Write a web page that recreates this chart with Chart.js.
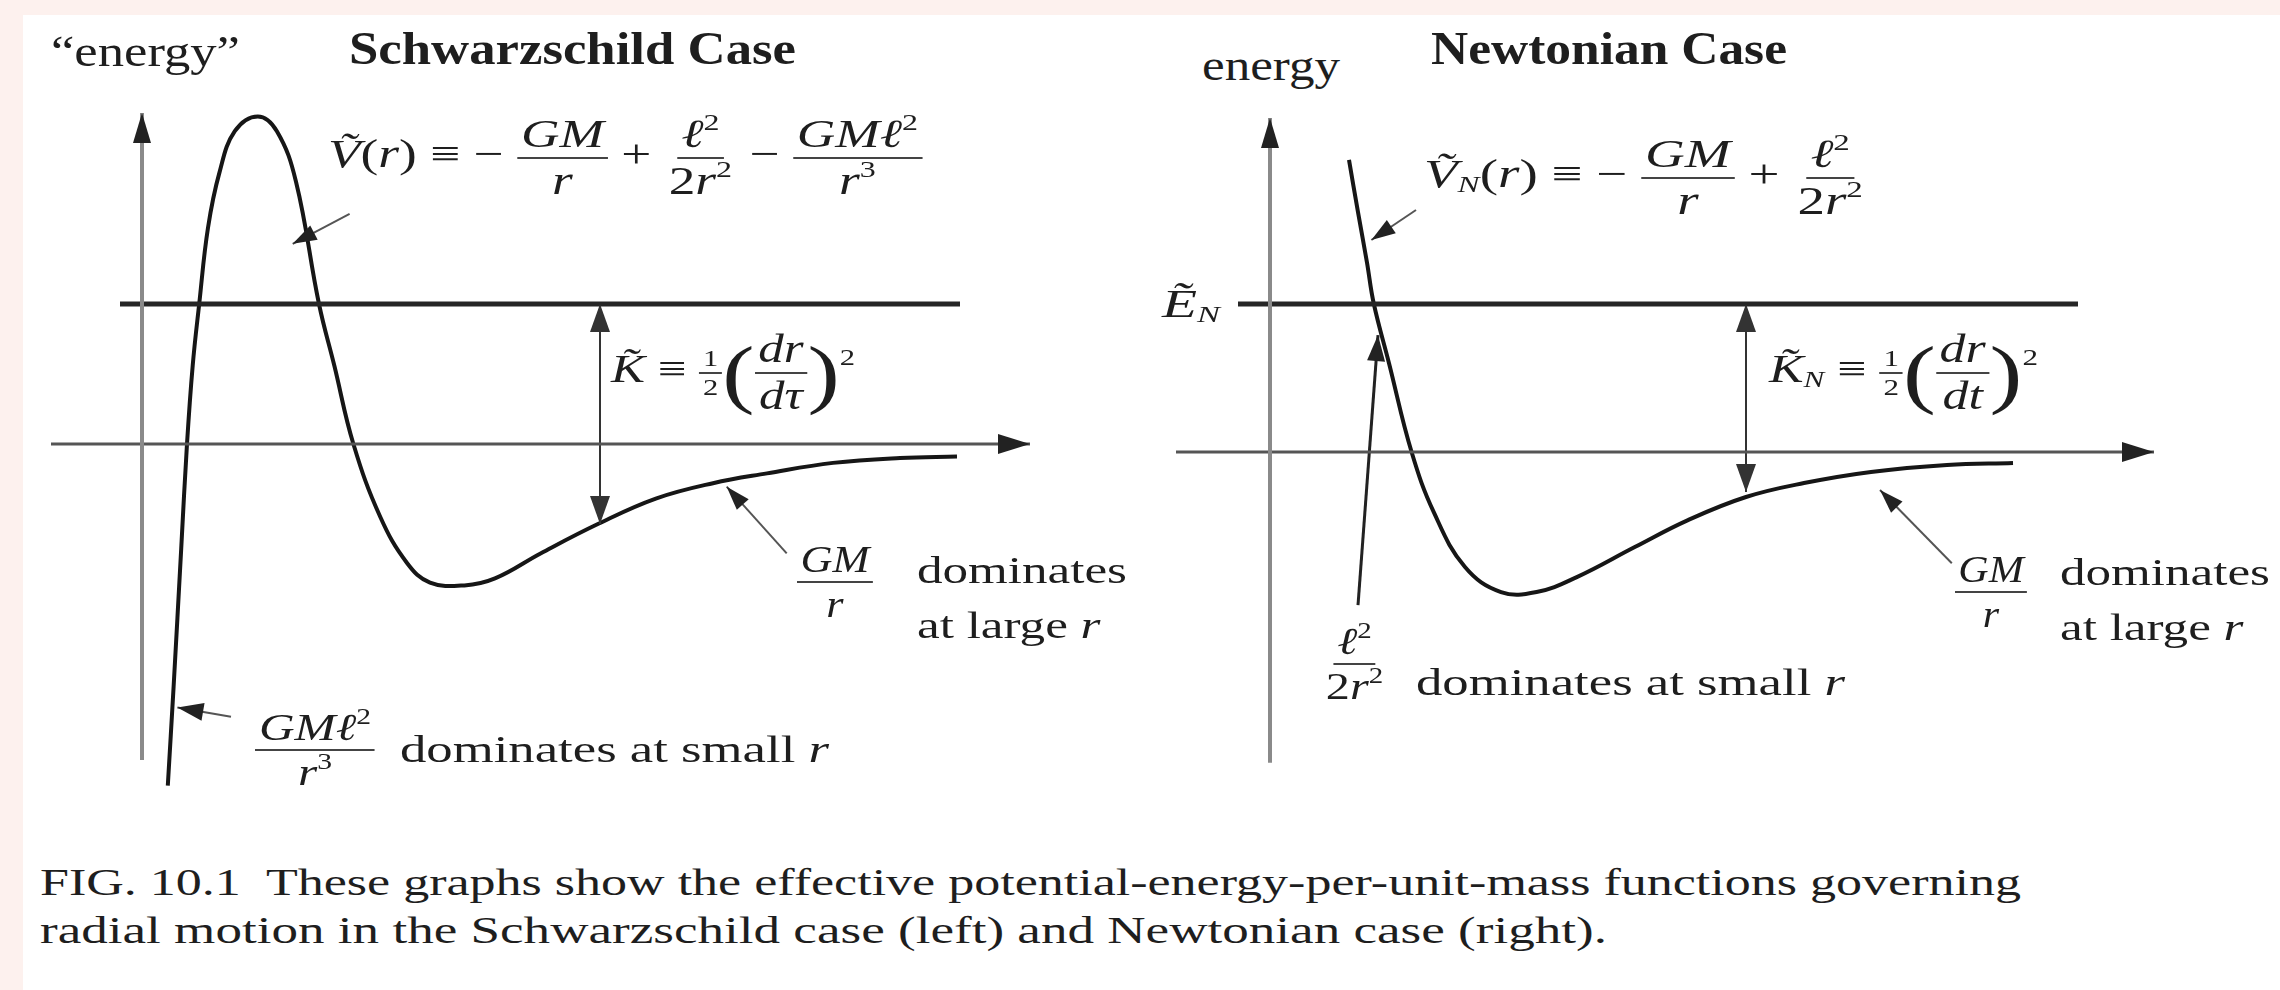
<!DOCTYPE html>
<html><head><meta charset="utf-8">
<script src="https://cdn.jsdelivr.net/npm/chart.js@4.4.1/dist/chart.umd.min.js"></script>
<style>
html,body{margin:0;padding:0;}
body{width:2280px;height:990px;background:#fdf1ee;position:relative;overflow:hidden;font-family:"Liberation Serif","Times New Roman","DejaVu Serif",serif;color:#1e1e1e;}
#sheet{position:absolute;left:23px;top:15px;width:2257px;height:975px;background:#fff;}
canvas{position:absolute;}
.t{position:absolute;white-space:nowrap;line-height:1;transform-origin:0 0;}
.frac{display:inline-flex;flex-direction:column;align-items:center;vertical-align:middle;}
.frac>span{display:block;padding:0 3px;line-height:1.12;}
.frac>span:first-child{border-bottom:2px solid #444;}
.small{font-size:0.6em;}
.big{font-size:1.9em;vertical-align:middle;font-weight:lighter;}
sup{font-size:0.6em;vertical-align:0.7em;line-height:0;}
sub{font-size:0.6em;vertical-align:-0.2em;line-height:0;}
i{font-style:italic;}
</style></head>
<body>
<div id="sheet"></div>
<canvas id="cl" width="1050" height="700" style="left:30px;top:100px"></canvas>
<canvas id="cr" width="1120" height="700" style="left:1150px;top:100px"></canvas>

<!-- left panel texts -->
<div class="t" data-w="189" style="left:51px;top:30px;font-size:44px">“energy”</div>
<div class="t" data-w="447" style="left:349px;top:26px;font-size:46px;font-weight:bold">Schwarzschild Case</div>
<div class="t" data-w="594" style="left:328px;top:112px;font-size:40px"><i>Ṽ</i>(<i>r</i>) ≡ − <span class="frac"><span><i>GM</i></span><span><i>r</i></span></span> + <span class="frac"><span><i>ℓ</i><sup>2</sup></span><span>2<i>r</i><sup>2</sup></span></span> − <span class="frac"><span><i>GMℓ</i><sup>2</sup></span><span><i>r</i><sup>3</sup></span></span></div>
<div class="t" data-w="244" style="left:611px;top:327px;font-size:40px"><i>K̃</i> ≡ <span class="frac small"><span>1</span><span>2</span></span><span class="big">(</span><span class="frac"><span><i>dr</i></span><span><i>dτ</i></span></span><span class="big">)</span><sup>2</sup></div>
<div class="t" data-w="76" style="left:797px;top:538px;font-size:38px"><span class="frac"><span><i>GM</i></span><span><i>r</i></span></span></div>
<div class="t" data-w="210" style="left:917px;top:543px;font-size:38px;line-height:1.45">dominates<br>at large <i>r</i></div>
<div class="t" data-w="120" style="left:255px;top:706px;font-size:38px"><span class="frac"><span><i>GMℓ</i><sup>2</sup></span><span><i>r</i><sup>3</sup></span></span></div>
<div class="t" data-w="429" style="left:400px;top:730px;font-size:38px">dominates at small <i>r</i></div>

<!-- right panel texts -->
<div class="t" data-w="138" style="left:1202px;top:44px;font-size:44px">energy</div>
<div class="t" data-w="356" style="left:1431px;top:26px;font-size:46px;font-weight:bold">Newtonian Case</div>
<div class="t" data-w="443" style="left:1424px;top:132px;font-size:40px"><i>Ṽ</i><sub><i>N</i></sub>(<i>r</i>) ≡ − <span class="frac"><span><i>GM</i></span><span><i>r</i></span></span> + <span class="frac"><span><i>ℓ</i><sup>2</sup></span><span>2<i>r</i><sup>2</sup></span></span></div>
<div class="t" data-w="58" style="left:1162px;top:284px;font-size:40px"><i>Ẽ</i><sub><i>N</i></sub></div>
<div class="t" data-w="269" style="left:1769px;top:327px;font-size:40px"><i>K̃</i><sub><i>N</i></sub> ≡ <span class="frac small"><span>1</span><span>2</span></span><span class="big">(</span><span class="frac"><span><i>dr</i></span><span><i>dt</i></span></span><span class="big">)</span><sup>2</sup></div>
<div class="t" data-w="72" style="left:1955px;top:548px;font-size:38px"><span class="frac"><span><i>GM</i></span><span><i>r</i></span></span></div>
<div class="t" data-w="210" style="left:2060px;top:545px;font-size:38px;line-height:1.45">dominates<br>at large <i>r</i></div>
<div class="t" data-w="65" style="left:1322px;top:620px;font-size:38px"><span class="frac"><span><i>ℓ</i><sup>2</sup></span><span>2<i>r</i><sup>2</sup></span></span></div>
<div class="t" data-w="429" style="left:1416px;top:663px;font-size:38px">dominates at small <i>r</i></div>

<!-- caption -->
<div class="t" data-w="1981" style="left:40px;top:864px;font-size:37px">FIG. 10.1&nbsp; These graphs show the effective potential-energy-per-unit-mass functions governing</div>
<div class="t" data-w="1567" style="left:40px;top:912px;font-size:37px">radial motion in the Schwarzschild case (left) and Newtonian case (right).</div>

<script>
// ---------- Schwarzschild (left) panel ----------
const schwR = [0.258,0.316,0.392,0.45,0.507,0.572,0.66,0.775,0.928,1.158,1.349,1.54,1.77,1.923,2.114,2.382,2.65,2.88,3.224,3.53,3.99,4.564,5.138,5.71,6.25,6.91,7.58,8.15];
const schwV = [-2.44,-1.735,-0.75,0.0,0.56,1.0,1.545,1.94,2.234,2.34,2.234,1.873,1.0,0.56,0.0,-0.52,-0.85,-0.99,-1.01,-0.96,-0.78,-0.57,-0.39,-0.28,-0.21,-0.135,-0.10,-0.09];
const schwRAxis = [-0.91, 8.88];
const schwVAxis = [-2.257, 2.364];
const schwEnergy = 1.0;
const schwEnergyR = [-0.22, 8.18];
const schwKArrowR = 4.58;
const schwKArrowV = [1.0, -0.571];
const schwNoteFormulaR = [2.076, 1.507];  const schwNoteFormulaV = [1.643, 1.43];
const schwNoteLargeR = [6.447, 5.847];    const schwNoteLargeV = [-0.781, -0.305];
const schwNoteSmallR = [0.89, 0.354];     const schwNoteSmallV = [-1.948, -1.882];

// ---------- Newtonian (right) panel ----------
const newtR = [0.79,0.88,0.97,1.037,1.19,1.416,1.64,1.95,2.31,2.666,3.068,3.648,4.18,4.76,5.34,6.01,6.77,7.43];
const newtV = [1.973,1.62,1.28,1.005,0.6,0.0,-0.41,-0.777,-0.946,-0.946,-0.845,-0.642,-0.46,-0.304,-0.21,-0.135,-0.088,-0.074];
const newtRAxis = [-0.94, 8.84];
const newtVAxis = [-2.10, 2.257];
const newtEnergy = 1.0;
const newtEnergyR = [-0.32, 8.08];
const newtKArrowR = 4.76;
const newtKArrowV = [1.0, -0.27];
const newtNoteFormulaR = [1.46, 1.014];   const newtNoteFormulaV = [1.635, 1.432];
const newtNoteLargeR = [6.818, 6.10];     const newtNoteLargeV = [-0.752, -0.257];
const newtNoteSmallR = [0.88, 1.08];      const newtNoteSmallV = [-1.034, 0.79];

const pts = (rs, vs) => rs.map((r, i) => ({x: r, y: vs[i]}));
const hseg = (rs, v) => rs.map(r => ({x: r, y: v}));
const vseg = (r, vs) => vs.map(v => ({x: r, y: v}));

const arrowPlugin = {
  id: 'arrows',
  afterDatasetsDraw(chart) {
    const ctx = chart.ctx;
    chart.data.datasets.forEach((ds, i) => {
      if (!ds.arrows) return;
      const p = chart.getDatasetMeta(i).data;
      const n = p.length;
      const [len, hw] = ds.arrows.size;
      const draw = (tip, from) => {
        const a = Math.atan2(tip.y - from.y, tip.x - from.x);
        ctx.save();
        ctx.translate(tip.x, tip.y);
        ctx.rotate(a);
        ctx.beginPath();
        ctx.moveTo(0, 0);
        ctx.lineTo(-len, -hw);
        ctx.lineTo(-len, hw);
        ctx.closePath();
        ctx.fillStyle = ds.arrows.color || ds.borderColor;
        ctx.fill();
        ctx.restore();
      };
      if (ds.arrows.end) draw(p[n - 1], p[n - 2]);
      if (ds.arrows.start) draw(p[0], p[1]);
    });
  }
};

function line(data, color, width, extra) {
  return Object.assign({data, showLine: true, borderColor: color, borderWidth: width,
    pointRadius: 0, fill: false, tension: 0, clip: false}, extra || {});
}

function panel(id, box, s) {
  new Chart(document.getElementById(id), {
    type: 'scatter',
    data: {datasets: [
      line(vseg(0, s.vAxis), '#8a8a8a', 4, {arrows: {end: true, size: [30, 9], color: '#222'}}),
      line(hseg(s.rAxis, 0), '#555', 3, {arrows: {end: true, size: [32, 10], color: '#222'}}),
      line(hseg(s.energyR, s.energy), '#262626', 5),
      line(vseg(s.kR, s.kV), '#333', 2, {arrows: {start: true, end: true, size: [28, 10]}}),
      line(pts(s.curveR, s.curveV), '#161616', 4, {tension: 0.4}),
      line(pts(s.n1R, s.n1V), '#555', 2, {arrows: {end: true, size: [24, 8], color: '#222'}}),
      line(pts(s.n2R, s.n2V), '#555', 2, {arrows: {end: true, size: [24, 8], color: '#222'}}),
      line(pts(s.n3R, s.n3V), s.n3Color, s.n3Width, {arrows: {end: true, size: [26, 9], color: '#222'}})
    ]},
    options: {
      responsive: false, animation: false, events: [],
      layout: {padding: 0},
      plugins: {legend: {display: false}, tooltip: {enabled: false}},
      scales: {
        x: {type: 'linear', display: false, min: box.xmin, max: box.xmax},
        y: {type: 'linear', display: false, min: box.ymin, max: box.ymax}
      }
    },
    plugins: [arrowPlugin]
  });
}

panel('cl', {xmin: -1.12, xmax: 9.38, ymin: -2.543, ymax: 2.457}, {
  vAxis: schwVAxis, rAxis: schwRAxis, energy: schwEnergy, energyR: schwEnergyR,
  kR: schwKArrowR, kV: schwKArrowV, curveR: schwR, curveV: schwV,
  n1R: schwNoteFormulaR, n1V: schwNoteFormulaV, n2R: schwNoteLargeR, n2V: schwNoteLargeV,
  n3R: schwNoteSmallR, n3V: schwNoteSmallV, n3Color: '#555', n3Width: 2
});
panel('cr', {xmin: -1.2, xmax: 10.0, ymin: -2.351, ymax: 2.378}, {
  vAxis: newtVAxis, rAxis: newtRAxis, energy: newtEnergy, energyR: newtEnergyR,
  kR: newtKArrowR, kV: newtKArrowV, curveR: newtR, curveV: newtV,
  n1R: newtNoteFormulaR, n1V: newtNoteFormulaV, n2R: newtNoteLargeR, n2V: newtNoteLargeV,
  n3R: newtNoteSmallR, n3V: newtNoteSmallV, n3Color: '#222', n3Width: 3
});

document.querySelectorAll('.t[data-w]').forEach(el => {
  const w = el.getBoundingClientRect().width;
  const target = parseFloat(el.dataset.w);
  if (w > 0) el.style.transform = 'scaleX(' + (target / w).toFixed(4) + ')';
});
</script>
</body></html>
